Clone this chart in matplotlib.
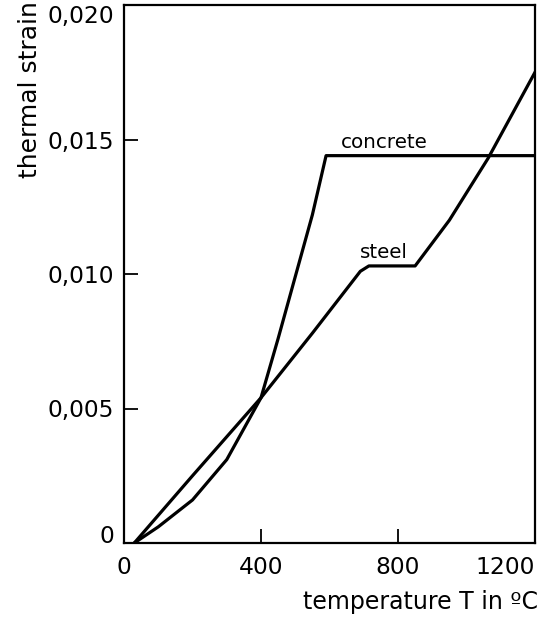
import numpy as np
import matplotlib.pyplot as plt

# temperature (deg C) and thermal strain
steel_T = [30, 200, 400, 550, 690, 715, 850, 950, 1063, 1200]
steel_eps = [0.0, 0.0025, 0.0054, 0.0078, 0.0101, 0.0103, 0.0103, 0.0120, 0.0143, 0.0175]

concrete_T = [30, 100, 200, 300, 400, 450, 500, 550, 590, 1200]
concrete_eps = [0.0, 0.0006, 0.0016, 0.0031, 0.0054, 0.0076, 0.0099, 0.0122, 0.0144, 0.0144]

x_ticks = [0, 400, 800, 1200]
x_labels = ["0", "400", "800", "1200"]
y_ticks = [0, 0.005, 0.010, 0.015, 0.020]
y_labels = ["0", "0,005", "0,010", "0,015", "0,020"]

plt.rcParams['font.family'] = ['DejaVu Sans']

fig = plt.figure(figsize=(5.41, 6.2), dpi=100)
ax = fig.add_axes([124/541, 1 - 543/620, 411/541, 538/620])

ax.plot(steel_T, steel_eps, color='black', lw=2.3, solid_joinstyle='round')
ax.plot(concrete_T, concrete_eps, color='black', lw=2.3, solid_joinstyle='round')

ax.text(759, 0.0149, "concrete", fontsize=14.3, ha='center', va='center')
ax.text(759, 0.0108, "steel", fontsize=14.3, ha='center', va='center')

ax.set_xlim(0, 1200)
ax.set_ylim(0, 0.020)
ax.set_xticks(x_ticks)
ax.set_xticklabels(x_labels)
ax.set_yticks(y_ticks)
ax.set_yticklabels(y_labels)
ax.get_xticklabels()[-1].set_horizontalalignment('right')
ax.get_yticklabels()[-1].set_verticalalignment('top')
ax.get_yticklabels()[0].set_verticalalignment('baseline')
ax.tick_params(direction='in', length=10, width=1.3, labelsize=16.8)
ax.tick_params(axis='x', pad=9)
ax.tick_params(axis='y', pad=7)
for s in ax.spines.values():
    s.set_linewidth(1.6)

fig.text(0.995, 1 - 602/620, "temperature T in ºC", fontsize=17, ha='right', va='center')
fig.text(30/541, 0.998, "thermal strain", fontsize=18, rotation=90, ha='center', va='top')

fig.savefig("out.png", dpi=100)
